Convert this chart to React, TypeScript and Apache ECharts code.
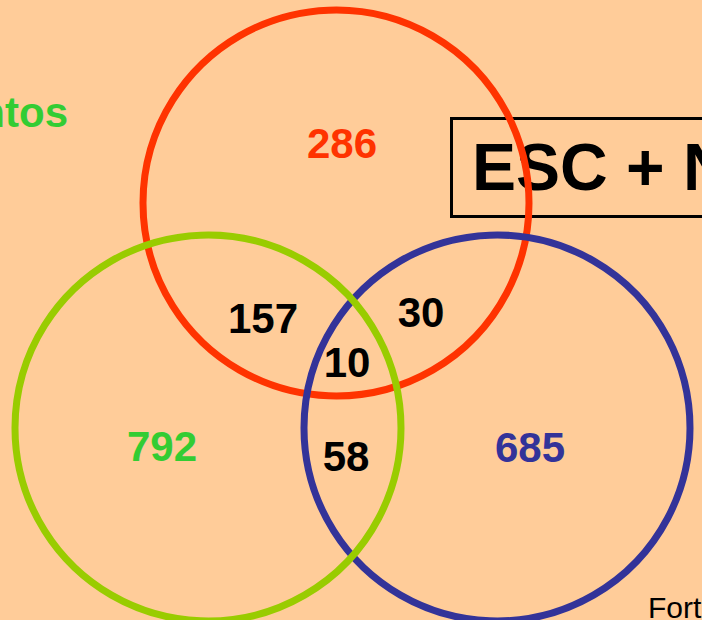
import React, { useEffect, useRef } from "react";
import * as echarts from "echarts";

// Set names and colours
const setNames = ["red", "blue", "green"];
const setColors = ["#FF3300", "#333399", "#99CC00"];

// Region counts (Venn regions)
const regionLabels = ["onlyRed", "redGreen", "redBlue", "all", "onlyGreen", "greenBlue", "onlyBlue"];
const regionValues = [286, 157, 30, 10, 792, 58, 685];
const regionColors = ["#FF3300", "#000000", "#000000", "#000000", "#33CC33", "#000000", "#333399"];

// Texts
const sideText = "ntos";
const boxText = "ESC + N";
const sourceText = "Fort";

// Layout (pixel positions in the chart's own coordinate system)
const circleCenters: [number, number][] = [
  [336, 203],
  [497, 428],
  [208, 428],
];
const circleRadius = 193;
const regionPositions: [number, number][] = [
  [342, 143],
  [263, 318],
  [421, 312],
  [347, 362],
  [162, 446],
  [346, 456],
  [530, 447],
];

const FONT = "'Liberation Sans', Arial, Helvetica, sans-serif";

export default function App() {
  const ref = useRef<HTMLDivElement>(null);
  useEffect(() => {
    document.body.style.margin = "0";
    const chart = echarts.init(ref.current!, undefined, { renderer: "svg" });
    const circleSeries = setNames.map((name, i) => ({
      type: "scatter",
      name,
      silent: true,
      symbol: "circle",
      symbolSize: circleRadius * 2,
      data: [circleCenters[i]],
      itemStyle: { color: "rgba(0,0,0,0)", borderColor: setColors[i], borderWidth: 7, opacity: 1 },
      emphasis: { disabled: true },
      z: 3,
    }));
    const labelSeries = {
      type: "scatter",
      silent: true,
      symbolSize: 0,
      z: 5,
      itemStyle: { opacity: 1 },
      emphasis: { disabled: true },
      data: regionValues.map((v, i) => ({
        value: [regionPositions[i][0], regionPositions[i][1], v],
        name: regionLabels[i],
        label: {
          show: true,
          position: "inside",
          formatter: String(v),
          color: regionColors[i],
          opacity: 1,
          fontSize: 42,
          fontWeight: "bold",
          fontFamily: FONT,
        },
      })),
    };
    chart.setOption({
      animation: false,
      backgroundColor: "#FFCC99",
      grid: { left: 0, right: 0, top: 0, bottom: 0 },
      xAxis: { type: "value", min: 0, max: 702, show: false },
      yAxis: { type: "value", min: 0, max: 620, inverse: true, show: false },
      graphic: [
        {
          type: "rect",
          z: 1,
          shape: { x: 451.5, y: 118.5, width: 300, height: 98 },
          style: { fill: "none", stroke: "#000", lineWidth: 3 },
        },
        {
          type: "text",
          z: 1,
          x: 472,
          y: 167,
          style: {
            text: boxText,
            font: `bold 66px ${FONT}`,
            fill: "#000",
            verticalAlign: "middle",
          },
        },
        {
          type: "text",
          z: 1,
          x: 68,
          y: 112,
          style: {
            text: sideText,
            font: `bold 42px ${FONT}`,
            fill: "#33CC33",
            align: "right",
            verticalAlign: "middle",
          },
        },
        {
          type: "text",
          z: 6,
          x: 648,
          y: 607,
          style: {
            text: sourceText,
            font: `30px ${FONT}`,
            fill: "#000",
            verticalAlign: "middle",
          },
        },
      ],
      series: [...circleSeries, labelSeries],
    });
    return () => chart.dispose();
  }, []);
  return <div ref={ref} style={{ width: 702, height: 620 }} />;
}
